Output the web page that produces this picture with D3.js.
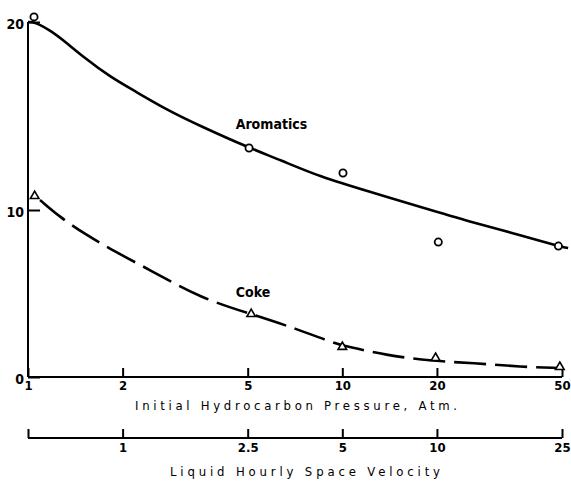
<!DOCTYPE html>
<html>
<head>
<meta charset="utf-8">
<script src="https://cdn.jsdelivr.net/npm/d3@7"></script>
<style>
  html, body { margin: 0; padding: 0; background: #fff; }
  svg { display: block; }
  text { font-family: "Liberation Sans Narrow", "DejaVu Sans Condensed", "Arial Narrow", sans-serif; fill: #000; }
</style>
</head>
<body>
<svg id="chart" width="571" height="481"></svg>
<script>
// ---- data ----
const pressureTicks = [1, 2, 5, 10, 20, 50];
const lhsvTicks = [0.5, 1, 2.5, 5, 10, 25];
const yTicks = [0, 10, 20];

// measured points
const aromaticsP = [1.045, 5.05, 10.05, 20.2, 48.7];
const aromaticsV = [20.27, 13.3, 11.97, 8.08, 7.84];
const cokeP = [1.05, 5.13, 10.0, 19.8, 49.2];
const cokeV = [10.74, 3.77, 1.80, 1.14, 0.60];

// fitted curves
const aroCurveP = [1, 1.05, 1.175, 1.33, 1.5, 1.83, 2.16, 2.77, 3.53, 5.06, 6.35, 8.5, 12.26, 18.1, 25.6, 35.0, 48.6, 52.3];
const aroCurveV = [20.0, 20.0, 19.57, 18.88, 18.14, 17.07, 16.38, 15.32, 14.47, 13.3, 12.66, 11.76, 10.96, 10.11, 9.28, 8.62, 7.84, 7.72];
const cokeCurveP = [1.092, 1.264, 1.497, 1.921, 2.446, 3.53, 5.13, 7.19, 9.36, 10.45, 13.7, 19.0, 26.1, 37.3, 48.7];
const cokeCurveV = [10.53, 9.58, 8.62, 7.43, 6.41, 4.73, 3.77, 2.87, 2.04, 1.80, 1.32, 0.96, 0.84, 0.60, 0.54];

const seriesLabels = ["Aromatics", "Coke"];
const xTitle1 = "Initial Hydrocarbon Pressure, Atm.";
const xTitle2 = "Liquid Hourly Space Velocity";

// ---- scales ----
const x = d3.scaleLog().domain([1, 50]).range([28, 562]);
const x2 = d3.scaleLog().domain([0.5, 25]).range([28, 562]);
// hand-drawn axis: 10 mark is not exactly midway
const y = d3.scaleLinear().domain([0, 10, 20]).range([377, 210, 22]);

const svg = d3.select("#chart");

// ---- axes ----
const yAxis = svg.append("g")
  .attr("transform", `translate(${x(1)},0)`)
  .call(d3.axisLeft(y).tickValues(yTicks).tickSize(-12).tickPadding(4).tickFormat(d3.format("d")));
yAxis.select(".domain").attr("d", `M0,${y(20)}V${y(0)}`);

const xAxis = svg.append("g")
  .attr("transform", `translate(0,${y(0)})`)
  .call(d3.axisBottom(x).tickValues(pressureTicks).tickSize(-9).tickPadding(4).tickFormat(d3.format("d")));
xAxis.select(".domain").attr("d", `M${x(1)},0H${x(50)}`);

const axis2Y = 438;
const xAxis2 = svg.append("g")
  .attr("transform", `translate(0,${axis2Y})`)
  .call(d3.axisBottom(x2).tickValues(lhsvTicks).tickSize(-9).tickPadding(5)
    .tickFormat(d => d === 0.5 ? "" : d3.format("")(d)));
xAxis2.select(".domain").attr("d", `M${x2(0.5)},0H${x2(25)}`);

svg.selectAll(".domain, .tick line").attr("stroke", "#000").attr("stroke-width", 2);
svg.selectAll(".tick text").attr("font-size", 13).attr("font-weight", "bold").attr("fill", "#000");
yAxis.selectAll(".tick text").attr("font-size", 14).attr("dy", "0.45em");

// ---- axis titles ----
svg.append("text").attr("x", 135).attr("y", 410)
  .attr("font-size", 13).attr("textLength", 322).attr("lengthAdjust", "spacing")
  .text(xTitle1);
svg.append("text").attr("x", 170).attr("y", 476)
  .attr("font-size", 13).attr("textLength", 270).attr("lengthAdjust", "spacing")
  .text(xTitle2);

// ---- curves ----
const line = d3.line().x(d => x(d[0])).y(d => y(d[1])).curve(d3.curveBasis);
svg.append("path").datum(d3.zip(aroCurveP, aroCurveV))
  .attr("d", line).attr("fill", "none").attr("stroke", "#000").attr("stroke-width", 2.6);
svg.append("path").datum(d3.zip(cokeCurveP, cokeCurveV))
  .attr("d", line).attr("fill", "none").attr("stroke", "#000").attr("stroke-width", 2.6)
  .attr("stroke-dasharray", "32,9");

// ---- markers ----
svg.selectAll("circle.aro").data(d3.zip(aromaticsP, aromaticsV)).join("circle")
  .attr("class", "aro")
  .attr("cx", d => x(d[0])).attr("cy", d => y(d[1])).attr("r", 3.6)
  .attr("fill", "#fff").attr("stroke", "#000").attr("stroke-width", 1.8);
const tri = d3.symbol().type(d3.symbolTriangle).size(32);
svg.selectAll("path.coke").data(d3.zip(cokeP, cokeV)).join("path")
  .attr("class", "coke").attr("d", tri)
  .attr("transform", d => `translate(${x(d[0])},${y(d[1])})`)
  .attr("fill", "#fff").attr("stroke", "#000").attr("stroke-width", 1.6);

// ---- series labels ----
svg.append("text").attr("x", x(5.95)).attr("y", y(14.31))
  .attr("text-anchor", "middle").attr("font-size", 14).attr("font-weight", "bold")
  .text(seriesLabels[0]);
svg.append("text").attr("x", x(5.2)).attr("y", y(4.79))
  .attr("text-anchor", "middle").attr("font-size", 14).attr("font-weight", "bold")
  .text(seriesLabels[1]);
</script>
</body>
</html>
